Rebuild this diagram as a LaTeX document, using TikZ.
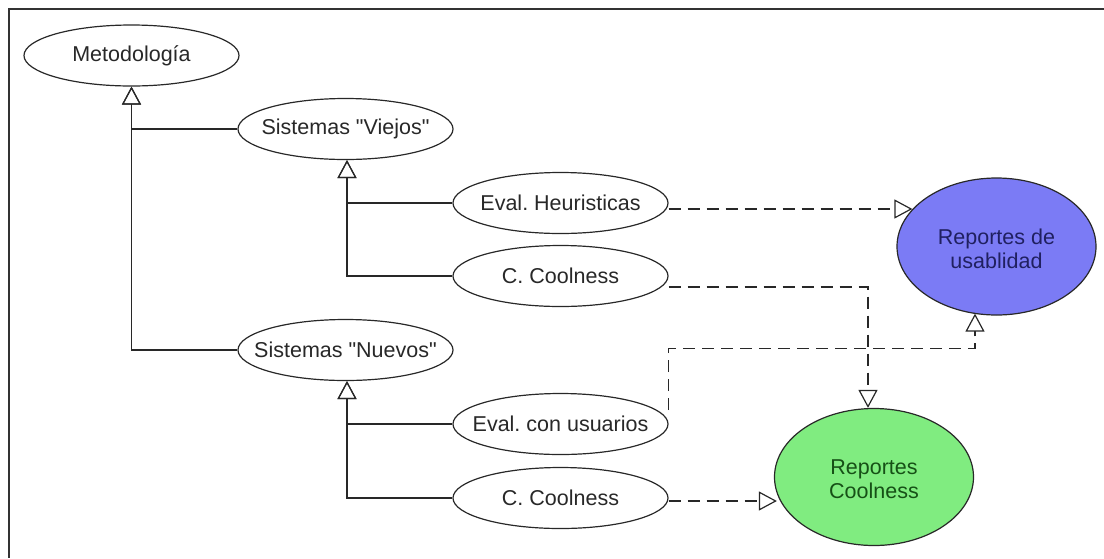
\documentclass[tikz,border=0pt]{standalone}
\usepackage{fontspec}
\setmainfont{Liberation Sans}[Ligatures=TeXOff]
\usetikzlibrary{shapes.geometric,arrows.meta,calc}
\frenchspacing

\definecolor{usaFill}{RGB}{123,123,245}
\definecolor{usaText}{RGB}{32,32,96}
\definecolor{coolFill}{RGB}{128,236,128}
\definecolor{coolText}{RGB}{22,80,22}
\definecolor{inkGray}{RGB}{40,40,40}

% label of zero width, so the ellipse keeps its own fixed size
\newcommand{\ucl}[1]{\makebox[0pt]{#1}}
% two-line label, smashed and set slightly below the centre
\newcommand{\ucll}[2]{\makebox[0pt]{\raisebox{-10pt}[0pt][0pt]{\begin{tabular}{@{}c@{}}#1\\[-1pt]#2\end{tabular}}}}

\tikzset{
  usecase/.style={ellipse, draw=inkGray, line width=1.2pt, fill=white,
    minimum width=215pt, minimum height=61pt, inner sep=0pt,
    text=inkGray, font=\fontsize{21.5}{25}\selectfont},
  report/.style={ellipse, draw=inkGray, line width=1.2pt,
    minimum width=199pt, minimum height=137pt, inner sep=0pt,
    font=\fontsize{21.5}{25}\selectfont},
  gen/.style={draw=inkGray, line width=1.3pt,
    -{Triangle[open, length=18pt, width=19pt, line width=1.2pt]}},
  dep/.style={draw=inkGray, line width=1.3pt, dash pattern=on 12pt off 7pt,
    -{Triangle[open, length=18pt, width=19pt, line width=1.2pt]}},
}

\begin{document}
\begin{tikzpicture}[x=1pt, y=-1pt]
  \useasboundingbox (0,0) rectangle (1104,558);
  % frame edges
  \draw[line width=2pt, black!80] (1104,9) -- (9,9) -- (9,558);

  % use cases
  \node[usecase] (met) at (131.5,55.5) {\ucl{Metodología}};
  \node[usecase] (sv)  at (345.5,129)  {\ucl{Sistemas "Viejos"}};
  \node[usecase] (sn)  at (345.5,350)  {\ucl{Sistemas "Nuevos"}};
  \node[usecase] (eh)  at (560.5,203)  {\ucl{Eval. Heuristicas}};
  \node[usecase] (cc1) at (560.5,276)  {\ucl{C. Coolness}};
  \node[usecase] (ecu) at (560.5,424)  {\ucl{Eval. con usuarios}};
  \node[usecase] (cc2) at (560.5,498)  {\ucl{C. Coolness}};

  % reports
  \node[report, fill=usaFill, text=usaText] (rep) at (996.5,246.5) {\ucll{Reportes de}{usablidad}};
  \node[report, fill=coolFill, text=coolText] (cg) at (874,477) {\ucll{Reportes}{Coolness}};

  % generalizations
  \draw[gen] (sv.west)  -| (met.south);
  \draw[gen] (sn.west)  -| (met.south);
  \draw[gen] (eh.west)  -| ($(sv.south)+(1.5,0)$);
  \draw[gen] (cc1.west) -| ($(sv.south)+(1.5,0)$);
  \draw[gen] (ecu.west) -| ($(sn.south)+(1.5,0)$);
  \draw[gen] (cc2.west) -| ($(sn.south)+(1.5,0)$);

  % dependencies
  \draw[dep] ($(eh.east)+(0,6)$) -- ($(rep.west)+(16,-37.5)$);
  \draw[dep] ($(cc1.east)+(0,11)$) -| ($(cg.north)+(-6,0)$);
  \draw[dep] ($(ecu.east)+(0,-14)$) |- ($(rep.south)+(-21.5,33)$) -- ($(rep.south)+(-21.5,-2)$);
  \draw[dep] ($(cc2.east)+(0,3)$) -- ($(cg.west)+(3,24)$);
\end{tikzpicture}
\end{document}
